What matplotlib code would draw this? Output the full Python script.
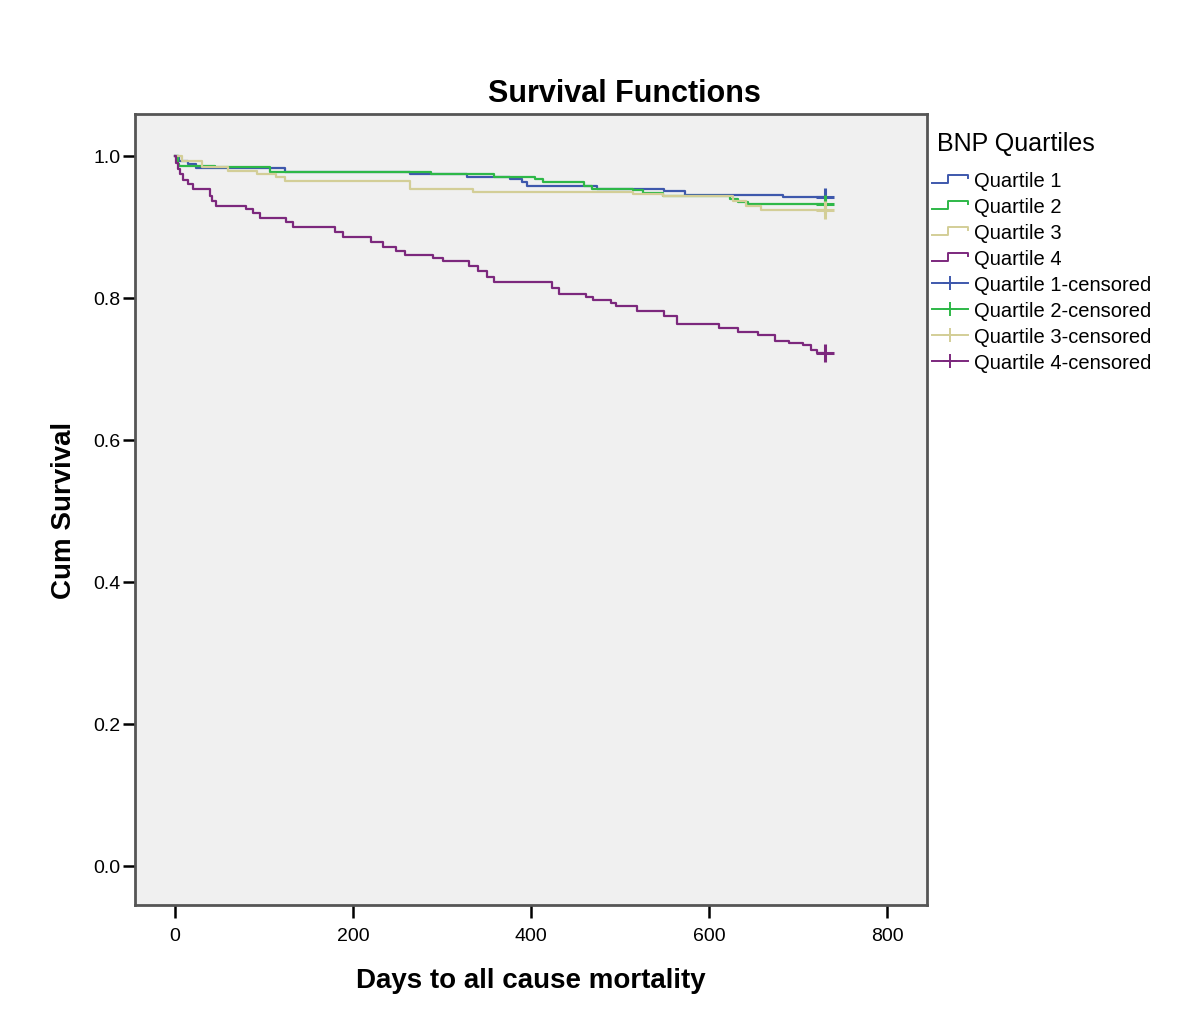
import matplotlib
matplotlib.use("Agg")
import matplotlib.pyplot as plt
from matplotlib.legend_handler import HandlerBase
from matplotlib.lines import Line2D

plt.rcParams['font.family'] = ['Liberation Sans', 'DejaVu Sans']

# ---- data (days, cumulative survival) ----
q1_days = [0, 5, 15, 24, 124, 264, 328, 376, 390, 395, 474, 549, 573, 683, 730]
q1_surv = [1.0, 0.993, 0.989, 0.983, 0.978, 0.975, 0.970, 0.968, 0.963, 0.958, 0.954, 0.950, 0.945, 0.942, 0.942]

q2_days = [0, 3, 5, 45, 107, 288, 358, 404, 414, 459, 468, 515, 526, 548, 624, 633, 644, 730]
q2_surv = [1.0, 0.989, 0.986, 0.984, 0.978, 0.975, 0.970, 0.967, 0.963, 0.958, 0.954, 0.952, 0.948, 0.943, 0.939, 0.935, 0.932, 0.932]

q3_days = [0, 8, 30, 60, 92, 114, 124, 264, 335, 515, 548, 627, 642, 659, 730]
q3_surv = [1.0, 0.993, 0.984, 0.979, 0.975, 0.970, 0.965, 0.954, 0.949, 0.947, 0.944, 0.936, 0.930, 0.924, 0.924]

q4_days = [0, 1, 3, 6, 9, 14, 20, 39, 42, 46, 80, 88, 96, 125, 133, 180, 189, 220, 234, 248,
           258, 290, 301, 330, 340, 350, 358, 424, 431, 462, 470, 490, 496, 519, 550, 564,
           611, 633, 655, 674, 690, 706, 715, 721, 730]
q4_surv = [1.0, 0.990, 0.982, 0.975, 0.966, 0.960, 0.953, 0.943, 0.936, 0.929, 0.925, 0.920,
           0.913, 0.907, 0.900, 0.893, 0.886, 0.879, 0.871, 0.866, 0.860, 0.856, 0.852, 0.845,
           0.838, 0.830, 0.822, 0.814, 0.806, 0.801, 0.797, 0.793, 0.789, 0.781, 0.775, 0.763,
           0.758, 0.752, 0.748, 0.740, 0.736, 0.733, 0.727, 0.722, 0.722]

censor_day = [730, 730, 730, 730]

series_names = ["Quartile 1", "Quartile 2", "Quartile 3", "Quartile 4"]
colors = ["#3E58AC", "#2EB848", "#D3CE97", "#7C287D"]

x_ticks = [0, 200, 400, 600, 800]
y_ticks = [0.0, 0.2, 0.4, 0.6, 0.8, 1.0]

days = [q1_days, q2_days, q3_days, q4_days]
survs = [q1_surv, q2_surv, q3_surv, q4_surv]

fig = plt.figure(figsize=(12, 10.12), dpi=100)
fig.patch.set_facecolor("white")
ax = fig.add_axes([135/1200, 1-906/1012, (927-135)/1200, (906-115)/1012])
ax.set_facecolor("#F0F0F0")

step_handles = []
cens_handles = []
for d, s, c, n, cd in zip(days, survs, colors, series_names, censor_day):
    ax.step(d, s, where="post", color=c, lw=1.6)
    ax.plot([cd], [s[-1]], marker="+", color=c, markersize=13, markeredgewidth=2.2, linestyle="none")
    step_handles.append(Line2D([], [], color=c, lw=1.4))
    cens_handles.append(Line2D([], [], color=c, lw=1.4, marker="+", markersize=10, markeredgewidth=1.4))

ax.set_xlim(-45, 845)
ax.set_ylim(-0.055, 1.059)
ax.set_xticks(x_ticks)
ax.set_xticklabels([str(t) for t in x_ticks])
ax.set_yticks(y_ticks)
ax.set_yticklabels([f"{t:.1f}" for t in y_ticks])
ax.tick_params(axis="both", direction="out", length=9, width=1.8, labelsize=14, colors="black")
ax.tick_params(axis="x", pad=7)
ax.tick_params(axis="y", pad=1.5)
for sp in ax.spines.values():
    sp.set_color("#555555")
    sp.set_linewidth(2.0)

ax.set_xlabel("Days to all cause mortality", fontsize=20, fontweight="bold", labelpad=16.5)
ax.set_ylabel("Cum Survival", fontsize=20, fontweight="bold", labelpad=11.5)
fig.text(624/1200, 1-94/1012, "Survival Functions", fontsize=22, fontweight="bold", ha="center", va="center")


class StepHandler(HandlerBase):
    def create_artists(self, legend, orig_handle, xdescent, ydescent, width, height, fontsize, trans):
        c = -ydescent + height * 0.5
        lo = c - 0.3 * height
        hi = c + 0.3 * height
        x0 = -xdescent
        xs = [x0, x0 + 0.45 * width, x0 + 0.45 * width, x0 + width, x0 + width]
        ys = [lo, lo, hi, hi, hi - 0.25 * height]
        l = Line2D(xs, ys, color=orig_handle.get_color(), lw=orig_handle.get_linewidth(), transform=trans)
        return [l]


handles = step_handles + cens_handles
labels = series_names + [n + "-censored" for n in series_names]
handler_map = {h: StepHandler() for h in step_handles}
leg = ax.legend(handles, labels, handler_map=handler_map, loc="upper left",
                bbox_to_anchor=(932/1200, 1-172/1012), bbox_transform=fig.transFigure,
                frameon=False, borderaxespad=0, borderpad=0, fontsize=14.5,
                handlelength=1.8, handletextpad=0.3, labelspacing=0.35, numpoints=1)
fig.text(937/1200, 1-144/1012, "BNP Quartiles", fontsize=18, ha="left", va="center")

fig.savefig("out.png", dpi=100, facecolor="white")
